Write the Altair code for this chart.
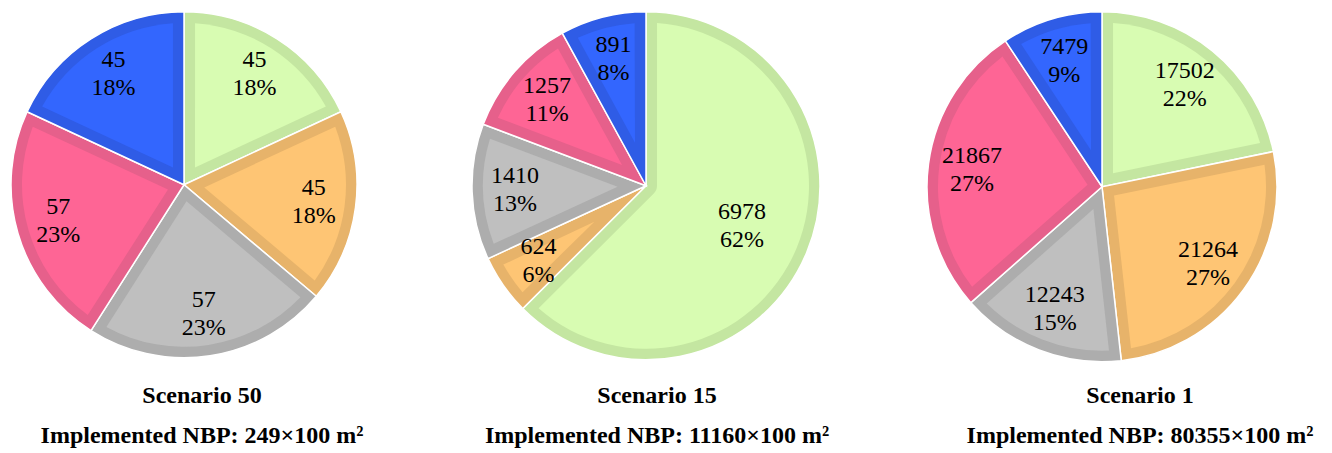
import math
import altair as alt
import pandas as pd

# ---- data ----
categories = ["c1", "c2", "c3", "c4", "c5"]          # green, orange, gray, pink, blue (clockwise from 12 o'clock)
fill_colors = ["#D8FCB2", "#FEC574", "#BFBFBF", "#FE6595", "#3366FE"]
border_colors = ["#C4E6A1", "#E7B36A", "#ADADAD", "#E6608B", "#2F5CE6"]

scenario_titles = ["Scenario 50", "Scenario 15", "Scenario 1"]
nbp_totals = ["249", "11160", "80355"]

values_s50 = [45, 45, 57, 57, 45]
values_s15 = [6978, 624, 1410, 1257, 891]
values_s1 = [17502, 21264, 12243, 21867, 7479]

pct_s50 = ["18%", "18%", "23%", "23%", "18%"]
pct_s15 = ["62%", "6%", "13%", "11%", "8%"]
pct_s1 = ["22%", "27%", "15%", "27%", "9%"]

# ---- styling ----
RADII = [173, 174, 175]      # outer radius of each pie
BW = 11                      # border width of each slice
PANEL_W = [348, 536, 336]
PANEL_H = [2 * r + 1.5 for r in RADII]
TITLE_DX = [18, 11, 38]
TITLE_OFFSET = [23.5, 21.5, 19.5]
FONT = "Liberation Serif"

rad_scale = alt.Scale(type="linear", domain=[0, 200], range=[0, 200], zero=True)


def pie(values, pcts, scen, total, width, height, R, dx, off):
    pad_angle = 2 * math.asin(BW / (R - BW))
    df = pd.DataFrame({"cat": categories, "order": list(range(len(categories))),
                       "value": values, "pct": pcts})
    base = alt.Chart(df).transform_joinaggregate(
        total="sum(value)"
    ).transform_window(
        cum="sum(value)", sort=[alt.SortField("order", order="ascending")],
        frame=[None, 0],
    ).transform_calculate(
        frac="datum.value / datum.total",
        ang="2 * PI * datum.frac",
        mid="datum.cum - datum.value / 2",
        r_out=f"{R}",
        r_in=f"{R - BW}",
        d=f"{BW} / sin(min(datum.ang, PI) / 2)",
        lr="datum.frac > 0.5 ? 104 : 131",
        lab="[format(datum.value, 'd'), datum.pct]",
    )
    theta = alt.Theta("value:Q", stack=True)
    order = alt.Order("order:Q", sort="ascending")

    border = base.mark_arc(stroke="white", strokeWidth=1.5).encode(
        theta=theta,
        order=order,
        radius=alt.Radius("r_out:Q", scale=rad_scale),
        color=alt.Color("cat:N", scale=alt.Scale(domain=categories, range=border_colors), legend=None),
    )
    inner = base.mark_arc(padAngle=pad_angle).encode(
        theta=theta,
        order=order,
        radius=alt.Radius("r_in:Q", scale=rad_scale),
        radius2=alt.Radius2("d:Q"),
        fill=alt.Fill("cat:N", scale=alt.Scale(domain=categories, range=fill_colors), legend=None),
    )
    labels = base.mark_text(font=FONT, fontSize=24, lineHeight=28, color="black",
                            align="center", baseline="middle", dy=-14).encode(
        theta=alt.Theta("mid:Q", stack=None),
        radius=alt.Radius("lr:Q", scale=rad_scale),
        text=alt.Text("lab:N"),
    )
    return alt.layer(border, inner, labels).properties(
        width=width,
        height=height,
        title=alt.TitleParams(
            text=[scen, f"Implemented NBP: {total}\u00d7100 m\u00b2"],
            orient="bottom",
            anchor="middle",
            font=FONT,
            fontSize=24,
            fontWeight="bold",
            color="black",
            lineHeight=40,
            offset=off,
            dx=dx,
        ),
    )


all_values = [values_s50, values_s15, values_s1]
all_pcts = [pct_s50, pct_s15, pct_s1]
panels = [pie(all_values[i], all_pcts[i], scenario_titles[i], nbp_totals[i],
              PANEL_W[i], PANEL_H[i], RADII[i], TITLE_DX[i], TITLE_OFFSET[i])
          for i in range(3)]

chart = alt.hconcat(*panels, spacing=20, bounds="flush").properties(
    padding=0, background="white"
).configure_view(stroke=None)

chart.save("out.html", embed_options={"renderer": "svg", "actions": False})
